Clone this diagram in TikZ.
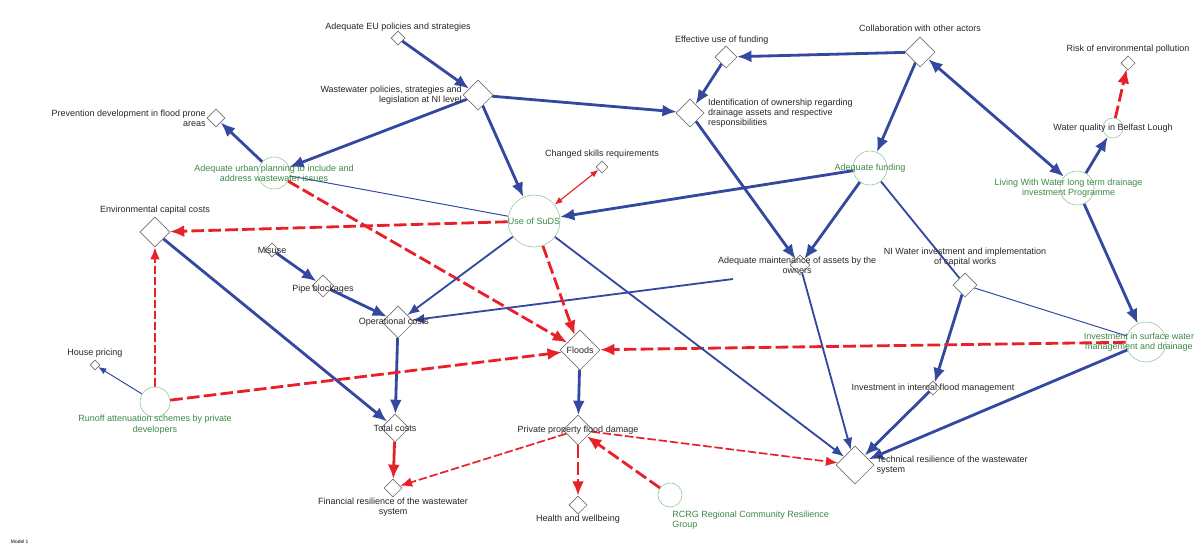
\documentclass[tikz,border=0pt]{standalone}
\usepackage{fontspec}
\setmainfont{Liberation Sans}
\usetikzlibrary{positioning}
\usetikzlibrary{arrows.meta}
\usetikzlibrary{shapes.geometric}
\usetikzlibrary{backgrounds}

\definecolor{wblue}{RGB}{52,72,160}
\definecolor{wred}{RGB}{232,32,40}
\definecolor{wgreen}{RGB}{70,160,80}

\begin{document}
\begin{tikzpicture}[x=0.025cm,y=-0.025cm,
	font=\fontsize{6.4}{7.2}\selectfont,
	every label/.style={inner sep=0.5pt,align=center,text=black!85},
	dia/.style={diamond,draw=black!55,fill=white,inner sep=0pt,minimum size=#1*0.025cm},
	circ/.style={circle,draw=wgreen!60,inner sep=0pt,minimum size=#1*0.025cm},
	gtxt/.style={text=wgreen!85!black,align=center},
	lnkpos/.style={draw=wblue,line width=2pt,-{Latex[length=3.6mm,width=3mm]}},
	lnkmid/.style={draw=wblue,line width=1.3pt,-{Latex[length=3mm,width=2.4mm]}},
	lnkthin/.style={draw=wblue,line width=0.7pt},
	lnkneg/.style={draw=wred,line width=2pt,dash pattern=on 9pt off 3pt,-{Latex[length=3.6mm,width=3mm]}},
	lnknegmid/.style={draw=wred,line width=1.2pt,dash pattern=on 6pt off 2pt,-{Latex[length=3mm,width=2.4mm]}}]
	\useasboundingbox (0,0) rectangle (1200,548);

	% policy and planning
	\node [dia=14,label={[yshift=-1pt]above:Adequate EU policies and strategies}] at (398,38) (eu_pol) {};
	\node [dia=30,label={[align=right]left:Wastewater policies, strategies and\\legislation at NI level}] at (478,95) (ww_pol) {};
	\node [dia=18,label={[align=right]left:Prevention development in flood prone\\areas}] at (216,118) (prevent) {};
	\node [circ=32,label={[gtxt]center:Adequate urban planning to include and\\address wastewater issues}] at (274,173) (urban_plan) {};
	\node [dia=12,label={[yshift=1pt]above:Changed skills requirements}] at (602,167) (skills) {};
	\node [circ=52,label={[gtxt]center:Use of SuDS}] at (534,221) (suds) {};

	% funding and actors
	\node [dia=22,label={[xshift=-3pt]above:Effective use of funding}] at (726,57) (eff_fund) {};
	\node [dia=28,label={[align=left,xshift=2pt]right:Identification of ownership regarding\\drainage assets and respective\\responsibilities}] at (690,113) (ident) {};
	\node [dia=30,label={[yshift=3pt]above:Collaboration with other actors}] at (920,52) (collab) {};
	\node [dia=14,label={[yshift=1pt]above:Risk of environmental pollution}] at (1128,63) (risk_env) {};
	\node [circ=20,label={center:Water quality in Belfast Lough}] at (1113,128) (water_q) {};
	\node [circ=34,label={[gtxt]center:Adequate funding}] at (870,168) (ad_fund) {};
	\node [circ=34,label={[gtxt,xshift=-6pt]center:Living With Water long term drainage\\investment Programme}] at (1077,188) (lww) {};

	% costs
	\node [dia=30,label={[yshift=1pt]above:Environmental capital costs}] at (155,232) (env_cost) {};
	\node [dia=14,label={center:Misuse}] at (272,250) (misuse) {};
	\node [dia=22,label={[yshift=-2pt]center:Pipe blockages}] at (323,286) (pipe_block) {};
	\node [dia=32,label={[xshift=-3pt]center:Operational costs}] at (398,322) (op_cost) {};
	\node [dia=20,label={[xshift=-2pt]center:Adequate maintenance of assets by the\\owners}] at (800,265) (maint) {};
	\coordinate (maint_out) at (733,279);
	\node [dia=24,label={[yshift=4pt]above:NI Water investment and implementation\\of capital works}] at (965,285) (niw_inv) {};
	\node [dia=40,label={center:Floods}] at (580,350) (floods) {};
	\node [circ=40,label={[gtxt,xshift=-5pt]center:Investment in surface water\\management and drainage}] at (1146,342) (inv_surf) {};
	\node [dia=10,label={[yshift=1pt]above:House pricing}] at (95,365) (house) {};
	\node [circ=30,label={[gtxt,yshift=2pt]below:Runoff attenuation schemes by private\\developers}] at (155,402) (runoff) {};
	\node [dia=14,label={center:Investment in internal flood management}] at (933,388) (inv_int) {};
	\node [dia=28,label={center:Total costs}] at (395,428) (tot_cost) {};
	\node [dia=30,label={center:Private property flood damage}] at (578,430) (priv_dmg) {};
	\node [dia=38,label={[align=left,xshift=1pt]right:Technical resilience of the wastewater\\system}] at (855,465) (tech_res) {};
	\node [dia=18,label={below:Financial resilience of the wastewater\\system}] at (393,488) (fin_res) {};
	\node [dia=18,label={below:Health and wellbeing}] at (578,505) (health) {};
	\node [circ=24,label={[gtxt,align=left,anchor=north west,xshift=1pt,yshift=-2pt]south:RCRG Regional Community Resilience\\Group}] at (670,495) (rcrg) {};
	\node [font=\fontsize{3.5}{4}\selectfont,anchor=west] at (6,542) (model_txt) {Model 1};

	% links
	\begin{scope}[on background layer]
	\draw [lnkpos] (eu_pol) -- (ww_pol);
	\draw [lnkpos] (ww_pol) -- (urban_plan);
	\draw [lnkpos] (ww_pol) -- (ident);
	\draw [lnkpos] (ww_pol) -- (suds);
	\draw [lnkpos] (urban_plan) -- (prevent);
	\draw [lnkthin] (urban_plan) -- (suds);
	\draw [lnkneg] (urban_plan) -- (floods);
	\draw [draw=wred,line width=0.8pt,{Latex[length=2mm,width=1.6mm]}-{Latex[length=2mm,width=1.6mm]}] (suds) -- (skills);
	\draw [lnkpos] (collab) -- (eff_fund);
	\draw [lnkpos] (eff_fund) -- (ident);
	\draw [lnkpos] (collab) -- (ad_fund);
	\draw [lnkpos,{Latex[length=3.6mm,width=3mm]}-{Latex[length=3.6mm,width=3mm]}] (collab) -- (lww);
	\draw [lnkpos] (lww) -- (water_q);
	\draw [lnkneg] (water_q) -- (risk_env);
	\draw [lnkpos] (lww) -- (inv_surf);
	\draw [lnkpos] (ad_fund) -- (suds);
	\draw [lnkpos] (ad_fund) -- (maint);
	\draw [draw=wblue,line width=1.3pt] (ad_fund) -- (niw_inv);
	\draw [lnkpos] (ident) -- (maint);
	\draw [lnkmid] (maint_out) -- (op_cost);
	\draw [lnkmid] (maint) -- (tech_res);
	\draw [lnkpos] (niw_inv) -- (inv_int);
	\draw [lnkthin] (niw_inv) -- (inv_surf);
	\draw [lnkpos] (inv_int) -- (tech_res);
	\draw [lnkpos] (inv_surf) -- (tech_res);
	\draw [lnkneg] (inv_surf) -- (floods);
	\draw [lnkmid] (suds) -- (tech_res);
	\draw [lnkneg] (suds) -- (floods);
	\draw [lnkneg] (suds) -- (env_cost);
	\draw [lnkmid] (suds) -- (op_cost);
	\draw [lnkpos] (misuse) -- (pipe_block);
	\draw [lnkpos] (pipe_block) -- (op_cost);
	\draw [lnkpos] (op_cost) -- (tot_cost);
	\draw [lnkpos] (env_cost) -- (tot_cost);
	\draw [lnknegmid] (runoff) -- (env_cost);
	\draw [draw=wblue,line width=0.7pt,-{Latex[length=2mm,width=1.6mm]}] (runoff) -- (house);
	\draw [lnkneg] (runoff) -- (floods);
	\draw [draw=wred,line width=2pt,-{Latex[length=3.6mm,width=3mm]}] (tot_cost) -- (fin_res);
	\draw [lnkpos] (floods) -- (priv_dmg);
	\draw [lnknegmid] (priv_dmg) -- (fin_res);
	\draw [lnknegmid] (priv_dmg) -- (tech_res);
	\draw [lnkneg] (priv_dmg) -- (health);
	\draw [lnkneg] (rcrg) -- (priv_dmg);
	\end{scope}
\end{tikzpicture}
\end{document}
